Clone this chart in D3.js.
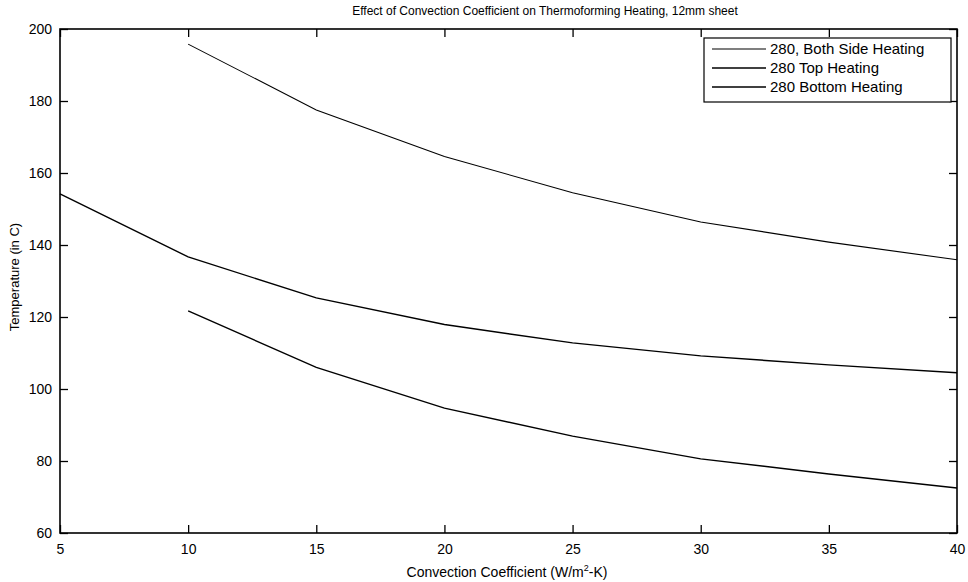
<!DOCTYPE html>
<html>
<head>
<meta charset="utf-8">
<script src="https://cdn.jsdelivr.net/npm/d3@7"></script>
<style>
  html, body { margin: 0; padding: 0; background: #fff; }
  svg { display: block; font-family: "Liberation Sans", Arial, Helvetica, sans-serif; }
</style>
</head>
<body>
<svg id="chart" width="968" height="582"></svg>
<script>
// Convection coefficient h (W/m^2-K) and resulting temperatures (C)
const bothSideH = [10, 15, 20, 25, 30, 35, 40];
const bothSideT = [195.8, 177.5, 164.6, 154.5, 146.4, 140.8, 135.9];

const topH = [5, 10, 15, 20, 25, 30, 35, 40];
const topT = [154.2, 136.7, 125.3, 117.9, 112.8, 109.2, 106.7, 104.5];

const bottomH = [10, 15, 20, 25, 30, 35, 40];
const bottomT = [121.7, 106.0, 94.7, 86.9, 80.6, 76.4, 72.5];

const seriesNames = ["280, Both Side Heating", "280 Top Heating", "280 Bottom Heating"];
const xTicks = [5, 10, 15, 20, 25, 30, 35, 40];
const yTicks = [60, 80, 100, 120, 140, 160, 180, 200];

const series = [
  { name: seriesNames[0], h: bothSideH, t: bothSideT, width: 1.1 },
  { name: seriesNames[1], h: topH, t: topT, width: 1.4 },
  { name: seriesNames[2], h: bottomH, t: bottomT, width: 1.4 }
];

const svg = d3.select("#chart");
const plotL = 60, plotR = 957, plotT = 29, plotB = 533;

const x = d3.scaleLinear().domain([5, 40]).range([plotL, plotR]);
const y = d3.scaleLinear().domain([60, 200]).range([plotB, plotT]);

// Title
svg.append("text")
  .attr("x", 545).attr("y", 15)
  .attr("text-anchor", "middle")
  .attr("font-size", 12)
  .text("Effect of Convection Coefficient on Thermoforming Heating, 12mm sheet");

// Data lines
const line = d3.line().x(d => x(d[0])).y(d => y(d[1]));
svg.append("g").selectAll("path")
  .data(series)
  .join("path")
  .attr("d", s => line(s.h.map((h, i) => [h, s.t[i]])))
  .attr("fill", "none")
  .attr("stroke", "#000")
  .attr("stroke-width", s => s.width);

// Axes with inward ticks on all four sides
const tickLen = 8;
const axisStyle = g => {
  g.select(".domain").remove();
  g.selectAll(".tick line").attr("stroke", "#000").attr("stroke-width", 1.3);
  g.selectAll(".tick text").attr("font-size", 14).attr("fill", "#000")
    .attr("font-family", "'Liberation Sans', Arial, sans-serif");
};

svg.append("g")
  .attr("transform", `translate(0,${plotB})`)
  .call(d3.axisBottom(x).tickValues(xTicks).tickFormat(d3.format("d")).tickSizeInner(-tickLen).tickSizeOuter(0).tickPadding(11))
  .call(axisStyle);

svg.append("g")
  .attr("transform", `translate(0,${plotT})`)
  .call(d3.axisTop(x).tickValues(xTicks).tickFormat("").tickSizeInner(-tickLen).tickSizeOuter(0))
  .call(axisStyle);

svg.append("g")
  .attr("transform", `translate(${plotL},0)`)
  .call(d3.axisLeft(y).tickValues(yTicks).tickFormat(d3.format("d")).tickSizeInner(-tickLen).tickSizeOuter(0).tickPadding(8))
  .call(axisStyle);

svg.append("g")
  .attr("transform", `translate(${plotR},0)`)
  .call(d3.axisRight(y).tickValues(yTicks).tickFormat("").tickSizeInner(-tickLen).tickSizeOuter(0))
  .call(axisStyle);

// Plot box
svg.append("rect")
  .attr("x", plotL).attr("y", plotT)
  .attr("width", plotR - plotL).attr("height", plotB - plotT)
  .attr("fill", "none").attr("stroke", "#000").attr("stroke-width", 1.6);

// Axis labels
const xl = svg.append("text")
  .attr("x", 507).attr("y", 577)
  .attr("text-anchor", "middle")
  .attr("font-size", 14);
xl.append("tspan").text("Convection Coefficient (W/m");
xl.append("tspan").attr("font-size", 9).attr("dy", -6).text("2");
xl.append("tspan").attr("dy", 6).text("-K)");

svg.append("text")
  .attr("transform", `translate(19,${277}) rotate(-90)`)
  .attr("text-anchor", "middle")
  .attr("font-size", 13)
  .text("Temperature (in C)");

// Legend
const lg = svg.append("g").attr("transform", "translate(704,38)");
lg.append("rect")
  .attr("width", 247).attr("height", 64)
  .attr("fill", "#fff").attr("stroke", "#000").attr("stroke-width", 1.2);
const items = lg.selectAll("g.item").data(series).join("g")
  .attr("class", "item")
  .attr("transform", (d, i) => `translate(0,${11 + i * 19})`);
items.append("line")
  .attr("x1", 8).attr("x2", 62)
  .attr("stroke", "#000").attr("stroke-width", d => d.width);
items.append("text")
  .attr("x", 66).attr("dy", "0.35em")
  .attr("font-size", 15)
  .text(d => d.name);
</script>
</body>
</html>
